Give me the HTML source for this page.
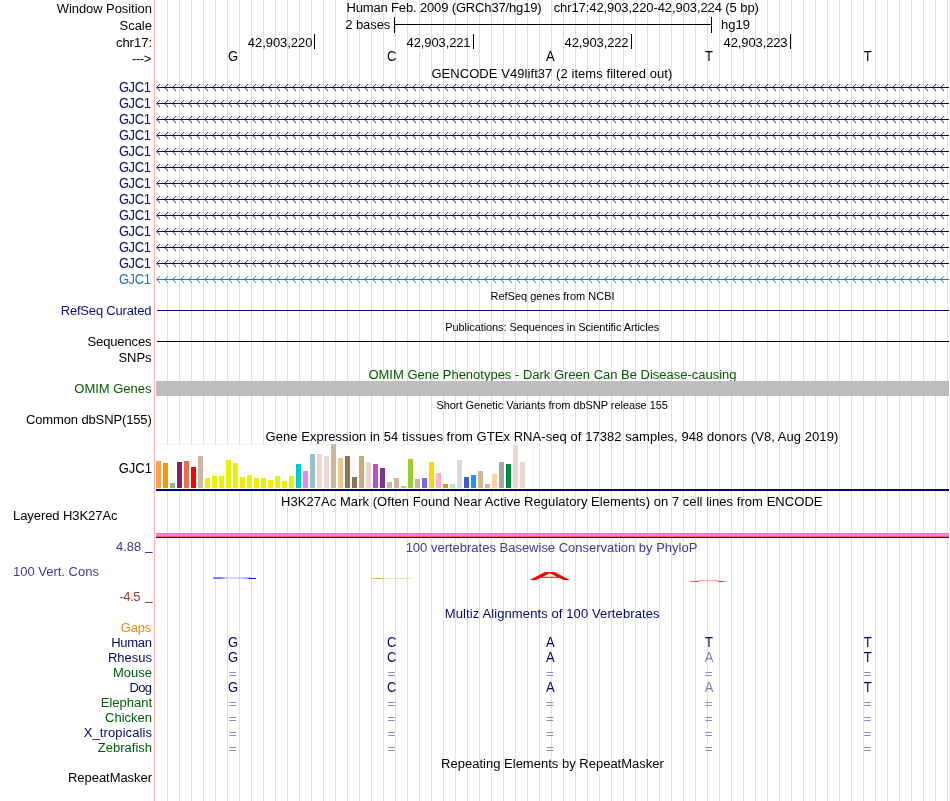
<!DOCTYPE html>
<html><head><meta charset="utf-8"><title>UCSC Genome Browser</title>
<style>
html,body{margin:0;padding:0;background:#fff;}
body{width:950px;height:801px;overflow:hidden;position:relative;font-family:"Liberation Sans",sans-serif;}
svg{position:absolute;left:0;top:0;display:block;will-change:transform;filter:opacity(1);}
svg text{font-family:"Liberation Sans",sans-serif;font-size:13px;fill:#000;}
.e{text-anchor:end}.m{text-anchor:middle}.s{font-size:11px !important}
.c{shape-rendering:crispEdges}
</style></head><body>
<svg width="950" height="801" viewBox="0 0 950 801">
<rect width="950" height="801" fill="#fff"/>
<g class="c" fill="#dcdcff">
<rect x="167" y="0" width="1" height="801"/>
<rect x="179" y="0" width="1" height="801"/>
<rect x="191" y="0" width="1" height="801"/>
<rect x="203" y="0" width="1" height="801"/>
<rect x="215" y="0" width="1" height="801"/>
<rect x="227" y="0" width="1" height="801"/>
<rect x="239" y="0" width="1" height="801"/>
<rect x="251" y="0" width="1" height="801"/>
<rect x="263" y="0" width="1" height="801"/>
<rect x="275" y="0" width="1" height="801"/>
<rect x="287" y="0" width="1" height="801"/>
<rect x="299" y="0" width="1" height="801"/>
<rect x="311" y="0" width="1" height="801"/>
<rect x="323" y="0" width="1" height="801"/>
<rect x="335" y="0" width="1" height="801"/>
<rect x="347" y="0" width="1" height="801"/>
<rect x="359" y="0" width="1" height="801"/>
<rect x="371" y="0" width="1" height="801"/>
<rect x="383" y="0" width="1" height="801"/>
<rect x="395" y="0" width="1" height="801"/>
<rect x="407" y="0" width="1" height="801"/>
<rect x="419" y="0" width="1" height="801"/>
<rect x="431" y="0" width="1" height="801"/>
<rect x="443" y="0" width="1" height="801"/>
<rect x="455" y="0" width="1" height="801"/>
<rect x="467" y="0" width="1" height="801"/>
<rect x="479" y="0" width="1" height="801"/>
<rect x="491" y="0" width="1" height="801"/>
<rect x="503" y="0" width="1" height="801"/>
<rect x="515" y="0" width="1" height="801"/>
<rect x="527" y="0" width="1" height="801"/>
<rect x="539" y="0" width="1" height="801"/>
<rect x="551" y="0" width="1" height="801"/>
<rect x="563" y="0" width="1" height="801"/>
<rect x="575" y="0" width="1" height="801"/>
<rect x="587" y="0" width="1" height="801"/>
<rect x="599" y="0" width="1" height="801"/>
<rect x="611" y="0" width="1" height="801"/>
<rect x="623" y="0" width="1" height="801"/>
<rect x="635" y="0" width="1" height="801"/>
<rect x="647" y="0" width="1" height="801"/>
<rect x="659" y="0" width="1" height="801"/>
<rect x="671" y="0" width="1" height="801"/>
<rect x="683" y="0" width="1" height="801"/>
<rect x="695" y="0" width="1" height="801"/>
<rect x="707" y="0" width="1" height="801"/>
<rect x="719" y="0" width="1" height="801"/>
<rect x="731" y="0" width="1" height="801"/>
<rect x="743" y="0" width="1" height="801"/>
<rect x="755" y="0" width="1" height="801"/>
<rect x="767" y="0" width="1" height="801"/>
<rect x="779" y="0" width="1" height="801"/>
<rect x="791" y="0" width="1" height="801"/>
<rect x="803" y="0" width="1" height="801"/>
<rect x="815" y="0" width="1" height="801"/>
<rect x="827" y="0" width="1" height="801"/>
<rect x="839" y="0" width="1" height="801"/>
<rect x="851" y="0" width="1" height="801"/>
<rect x="863" y="0" width="1" height="801"/>
<rect x="875" y="0" width="1" height="801"/>
<rect x="887" y="0" width="1" height="801"/>
<rect x="899" y="0" width="1" height="801"/>
<rect x="911" y="0" width="1" height="801"/>
<rect x="923" y="0" width="1" height="801"/>
<rect x="935" y="0" width="1" height="801"/>
<rect x="947" y="0" width="1" height="801"/>
</g>
<rect class="c" x="154" y="0" width="1" height="801" fill="#ffb4b4"/>
<defs><path id="ch" d="M160.0 -3.4L156.6 0L160.0 3.4M168.0 -3.4L164.6 0L168.0 3.4M176.0 -3.4L172.6 0L176.0 3.4M184.0 -3.4L180.6 0L184.0 3.4M192.0 -3.4L188.6 0L192.0 3.4M200.0 -3.4L196.6 0L200.0 3.4M208.0 -3.4L204.6 0L208.0 3.4M216.0 -3.4L212.6 0L216.0 3.4M224.0 -3.4L220.6 0L224.0 3.4M232.0 -3.4L228.6 0L232.0 3.4M240.0 -3.4L236.6 0L240.0 3.4M248.0 -3.4L244.6 0L248.0 3.4M256.0 -3.4L252.6 0L256.0 3.4M264.0 -3.4L260.6 0L264.0 3.4M272.0 -3.4L268.6 0L272.0 3.4M280.0 -3.4L276.6 0L280.0 3.4M288.0 -3.4L284.6 0L288.0 3.4M296.0 -3.4L292.6 0L296.0 3.4M304.0 -3.4L300.6 0L304.0 3.4M312.0 -3.4L308.6 0L312.0 3.4M320.0 -3.4L316.6 0L320.0 3.4M328.0 -3.4L324.6 0L328.0 3.4M336.0 -3.4L332.6 0L336.0 3.4M344.0 -3.4L340.6 0L344.0 3.4M352.0 -3.4L348.6 0L352.0 3.4M360.0 -3.4L356.6 0L360.0 3.4M368.0 -3.4L364.6 0L368.0 3.4M376.0 -3.4L372.6 0L376.0 3.4M384.0 -3.4L380.6 0L384.0 3.4M392.0 -3.4L388.6 0L392.0 3.4M400.0 -3.4L396.6 0L400.0 3.4M408.0 -3.4L404.6 0L408.0 3.4M416.0 -3.4L412.6 0L416.0 3.4M424.0 -3.4L420.6 0L424.0 3.4M432.0 -3.4L428.6 0L432.0 3.4M440.0 -3.4L436.6 0L440.0 3.4M448.0 -3.4L444.6 0L448.0 3.4M456.0 -3.4L452.6 0L456.0 3.4M464.0 -3.4L460.6 0L464.0 3.4M472.0 -3.4L468.6 0L472.0 3.4M480.0 -3.4L476.6 0L480.0 3.4M488.0 -3.4L484.6 0L488.0 3.4M496.0 -3.4L492.6 0L496.0 3.4M504.0 -3.4L500.6 0L504.0 3.4M512.0 -3.4L508.6 0L512.0 3.4M520.0 -3.4L516.6 0L520.0 3.4M528.0 -3.4L524.6 0L528.0 3.4M536.0 -3.4L532.6 0L536.0 3.4M544.0 -3.4L540.6 0L544.0 3.4M552.0 -3.4L548.6 0L552.0 3.4M560.0 -3.4L556.6 0L560.0 3.4M568.0 -3.4L564.6 0L568.0 3.4M576.0 -3.4L572.6 0L576.0 3.4M584.0 -3.4L580.6 0L584.0 3.4M592.0 -3.4L588.6 0L592.0 3.4M600.0 -3.4L596.6 0L600.0 3.4M608.0 -3.4L604.6 0L608.0 3.4M616.0 -3.4L612.6 0L616.0 3.4M624.0 -3.4L620.6 0L624.0 3.4M632.0 -3.4L628.6 0L632.0 3.4M640.0 -3.4L636.6 0L640.0 3.4M648.0 -3.4L644.6 0L648.0 3.4M656.0 -3.4L652.6 0L656.0 3.4M664.0 -3.4L660.6 0L664.0 3.4M672.0 -3.4L668.6 0L672.0 3.4M680.0 -3.4L676.6 0L680.0 3.4M688.0 -3.4L684.6 0L688.0 3.4M696.0 -3.4L692.6 0L696.0 3.4M704.0 -3.4L700.6 0L704.0 3.4M712.0 -3.4L708.6 0L712.0 3.4M720.0 -3.4L716.6 0L720.0 3.4M728.0 -3.4L724.6 0L728.0 3.4M736.0 -3.4L732.6 0L736.0 3.4M744.0 -3.4L740.6 0L744.0 3.4M752.0 -3.4L748.6 0L752.0 3.4M760.0 -3.4L756.6 0L760.0 3.4M768.0 -3.4L764.6 0L768.0 3.4M776.0 -3.4L772.6 0L776.0 3.4M784.0 -3.4L780.6 0L784.0 3.4M792.0 -3.4L788.6 0L792.0 3.4M800.0 -3.4L796.6 0L800.0 3.4M808.0 -3.4L804.6 0L808.0 3.4M816.0 -3.4L812.6 0L816.0 3.4M824.0 -3.4L820.6 0L824.0 3.4M832.0 -3.4L828.6 0L832.0 3.4M840.0 -3.4L836.6 0L840.0 3.4M848.0 -3.4L844.6 0L848.0 3.4M856.0 -3.4L852.6 0L856.0 3.4M864.0 -3.4L860.6 0L864.0 3.4M872.0 -3.4L868.6 0L872.0 3.4M880.0 -3.4L876.6 0L880.0 3.4M888.0 -3.4L884.6 0L888.0 3.4M896.0 -3.4L892.6 0L896.0 3.4M904.0 -3.4L900.6 0L904.0 3.4M912.0 -3.4L908.6 0L912.0 3.4M920.0 -3.4L916.6 0L920.0 3.4M928.0 -3.4L924.6 0L928.0 3.4M936.0 -3.4L932.6 0L936.0 3.4M944.0 -3.4L940.6 0L944.0 3.4" fill="none" stroke-width="0.9"/></defs>
<text x="151.9" transform="translate(0,13) scale(1,1.04)" textLength="95.2" lengthAdjust="spacing" class="e">Window Position</text>
<text x="152" transform="translate(0,30) scale(1,1.04)" class="e">Scale</text>
<text x="152" transform="translate(0,47) scale(1,1.04)" class="e">chr17:</text>
<text x="151.3" transform="translate(0,63) scale(1,1.04)" textLength="19.3" lengthAdjust="spacing" class="e">---&gt;</text>
<text x="346.4" transform="translate(0,12) scale(1,1.04)" textLength="195.3" lengthAdjust="spacing">Human Feb. 2009 (GRCh37/hg19)</text>
<text x="553.7" transform="translate(0,12) scale(1,1.04)" textLength="205.2" lengthAdjust="spacing">chr17:42,903,220-42,903,224 (5 bp)</text>
<text x="390.3" transform="translate(0,29) scale(1,1.04)" textLength="45" lengthAdjust="spacing" class="e">2 bases</text>
<g class="c" fill="#000"><rect x="394" y="17" width="1" height="16"/><rect x="711" y="17" width="1" height="16"/><rect x="394" y="24" width="318" height="1"/>
<rect x="314" y="34" width="1" height="15"/>
<rect x="473" y="34" width="1" height="15"/>
<rect x="631" y="34" width="1" height="15"/>
<rect x="790" y="34" width="1" height="15"/>
</g>
<text x="721" transform="translate(0,29) scale(1,1.04)">hg19</text>
<text x="312.4" transform="translate(0,47) scale(1,1.04)" textLength="64.6" lengthAdjust="spacing" class="e">42,903,220</text>
<text x="470.6" transform="translate(0,47) scale(1,1.04)" textLength="64" lengthAdjust="spacing" class="e">42,903,221</text>
<text x="628.6" transform="translate(0,47) scale(1,1.04)" textLength="64" lengthAdjust="spacing" class="e">42,903,222</text>
<text x="787.6" transform="translate(0,47) scale(1,1.04)" textLength="64" lengthAdjust="spacing" class="e">42,903,223</text>
<text class="m" transform="translate(233,61) scale(1,1.1)">G</text>
<text class="m" transform="translate(391.7,61) scale(1,1.1)">C</text>
<text class="m" transform="translate(550.3,61) scale(1,1.1)">A</text>
<text class="m" transform="translate(709,61) scale(1,1.1)">T</text>
<text class="m" transform="translate(867.7,61) scale(1,1.1)">T</text>
<text x="551.85" transform="translate(0,78) scale(1,1.04)" textLength="240.9" lengthAdjust="spacing" class="m">GENCODE V49lift37 (2 items filtered out)</text>
<rect class="c" x="157" y="87" width="792" height="1" fill="#0c0c78"/>
<use href="#ch" y="87.5" stroke="#0c0c78"/>
<text x="150.9" transform="translate(0,92) scale(1,1.12)" textLength="32" lengthAdjust="spacing" class="e" style="fill:#0c0c78">GJC1</text>
<rect class="c" x="157" y="103" width="792" height="1" fill="#0c0c78"/>
<use href="#ch" y="103.5" stroke="#0c0c78"/>
<text x="150.9" transform="translate(0,108) scale(1,1.12)" textLength="32" lengthAdjust="spacing" class="e" style="fill:#0c0c78">GJC1</text>
<rect class="c" x="157" y="119" width="792" height="1" fill="#0c0c78"/>
<use href="#ch" y="119.5" stroke="#0c0c78"/>
<text x="150.9" transform="translate(0,124) scale(1,1.12)" textLength="32" lengthAdjust="spacing" class="e" style="fill:#0c0c78">GJC1</text>
<rect class="c" x="157" y="135" width="792" height="1" fill="#0c0c78"/>
<use href="#ch" y="135.5" stroke="#0c0c78"/>
<text x="150.9" transform="translate(0,140) scale(1,1.12)" textLength="32" lengthAdjust="spacing" class="e" style="fill:#0c0c78">GJC1</text>
<rect class="c" x="157" y="151" width="792" height="1" fill="#0c0c78"/>
<use href="#ch" y="151.5" stroke="#0c0c78"/>
<text x="150.9" transform="translate(0,156) scale(1,1.12)" textLength="32" lengthAdjust="spacing" class="e" style="fill:#0c0c78">GJC1</text>
<rect class="c" x="157" y="167" width="792" height="1" fill="#0c0c78"/>
<use href="#ch" y="167.5" stroke="#0c0c78"/>
<text x="150.9" transform="translate(0,172) scale(1,1.12)" textLength="32" lengthAdjust="spacing" class="e" style="fill:#0c0c78">GJC1</text>
<rect class="c" x="157" y="183" width="792" height="1" fill="#0c0c78"/>
<use href="#ch" y="183.5" stroke="#0c0c78"/>
<text x="150.9" transform="translate(0,188) scale(1,1.12)" textLength="32" lengthAdjust="spacing" class="e" style="fill:#0c0c78">GJC1</text>
<rect class="c" x="157" y="199" width="792" height="1" fill="#0c0c78"/>
<use href="#ch" y="199.5" stroke="#0c0c78"/>
<text x="150.9" transform="translate(0,204) scale(1,1.12)" textLength="32" lengthAdjust="spacing" class="e" style="fill:#0c0c78">GJC1</text>
<rect class="c" x="157" y="215" width="792" height="1" fill="#0c0c78"/>
<use href="#ch" y="215.5" stroke="#0c0c78"/>
<text x="150.9" transform="translate(0,220) scale(1,1.12)" textLength="32" lengthAdjust="spacing" class="e" style="fill:#0c0c78">GJC1</text>
<rect class="c" x="157" y="231" width="792" height="1" fill="#0c0c78"/>
<use href="#ch" y="231.5" stroke="#0c0c78"/>
<text x="150.9" transform="translate(0,236) scale(1,1.12)" textLength="32" lengthAdjust="spacing" class="e" style="fill:#0c0c78">GJC1</text>
<rect class="c" x="157" y="247" width="792" height="1" fill="#0c0c78"/>
<use href="#ch" y="247.5" stroke="#0c0c78"/>
<text x="150.9" transform="translate(0,252) scale(1,1.12)" textLength="32" lengthAdjust="spacing" class="e" style="fill:#0c0c78">GJC1</text>
<rect class="c" x="157" y="263" width="792" height="1" fill="#0c0c78"/>
<use href="#ch" y="263.5" stroke="#0c0c78"/>
<text x="150.9" transform="translate(0,268) scale(1,1.12)" textLength="32" lengthAdjust="spacing" class="e" style="fill:#0c0c78">GJC1</text>
<rect class="c" x="157" y="279" width="792" height="1" fill="#1f78b4"/>
<use href="#ch" y="279.5" stroke="#1f78b4"/>
<text x="150.9" transform="translate(0,284) scale(1,1.12)" textLength="32" lengthAdjust="spacing" class="e" style="fill:#1f78b4">GJC1</text>
<text x="552.5" transform="translate(0,300) scale(1,1.04)" class="m s">RefSeq genes from NCBI</text>
<rect class="c" x="157" y="310" width="792" height="1" fill="#0c0c78"/>
<text x="151.5" transform="translate(0,315) scale(1,1.04)" textLength="90.8" lengthAdjust="spacing" class="e" style="fill:#0c0c78">RefSeq Curated</text>
<text x="552.2" transform="translate(0,331) scale(1,1.04)" textLength="214" lengthAdjust="spacing" class="m s">Publications: Sequences in Scientific Articles</text>
<rect class="c" x="157" y="341" width="792" height="1" fill="#000"/>
<text x="151.5" transform="translate(0,345.5) scale(1,1.04)" textLength="64" lengthAdjust="spacing" class="e">Sequences</text>
<text x="151.5" transform="translate(0,361.5) scale(1,1.04)" textLength="33" lengthAdjust="spacing" class="e">SNPs</text>
<text x="552.5" transform="translate(0,379) scale(1,1.04)" class="m" style="fill:#005a00">OMIM Gene Phenotypes - Dark Green Can Be Disease-causing</text>
<rect class="c" x="156" y="381" width="793" height="15" fill="#bebebe"/>
<text x="151.5" transform="translate(0,393) scale(1,1.04)" textLength="77.2" lengthAdjust="spacing" class="e" style="fill:#005a00">OMIM Genes</text>
<text x="552.2" transform="translate(0,409) scale(1,1.04)" textLength="231.6" lengthAdjust="spacing" class="m s">Short Genetic Variants from dbSNP release 155</text>
<text x="151.8" transform="translate(0,424) scale(1,1.04)" textLength="125.8" lengthAdjust="spacing" class="e">Common dbSNP(155)</text>
<text x="551.95" transform="translate(0,441) scale(1,1.04)" textLength="572.7" lengthAdjust="spacing" class="m">Gene Expression in 54 tissues from GTEx RNA-seq of 17382 samples, 948 donors (V8, Aug 2019)</text>
<rect class="c" x="156" y="444" width="378" height="45" fill="#fff" stroke="none"/>
<g class="c" fill="#f3f3f3"><rect x="156" y="444" width="378" height="1"/><rect x="533" y="444" width="1" height="45"/></g>
<g class="c">
<rect x="156" y="461" width="5" height="27" fill="#FFA54F"/>
<rect x="163" y="463" width="5" height="25" fill="#EE9A00"/>
<rect x="170" y="483" width="5" height="5" fill="#8FBC8F"/>
<rect x="177" y="462" width="5" height="26" fill="#8B1C62"/>
<rect x="184" y="461" width="5" height="27" fill="#EE6A50"/>
<rect x="191" y="467" width="5" height="21" fill="#FF0000"/>
<rect x="198" y="456" width="5" height="32" fill="#CDB79E"/>
<rect x="205" y="478" width="5" height="10" fill="#EEEE00"/>
<rect x="212" y="476" width="5" height="12" fill="#EEEE00"/>
<rect x="219" y="476" width="5" height="12" fill="#EEEE00"/>
<rect x="226" y="460" width="5" height="28" fill="#EEEE00"/>
<rect x="233" y="463" width="5" height="25" fill="#EEEE00"/>
<rect x="240" y="477" width="5" height="11" fill="#EEEE00"/>
<rect x="247" y="475" width="5" height="13" fill="#EEEE00"/>
<rect x="254" y="478" width="5" height="10" fill="#EEEE00"/>
<rect x="261" y="478" width="5" height="10" fill="#EEEE00"/>
<rect x="268" y="480" width="5" height="8" fill="#EEEE00"/>
<rect x="275" y="476" width="5" height="12" fill="#EEEE00"/>
<rect x="282" y="481" width="5" height="7" fill="#EEEE00"/>
<rect x="289" y="476" width="5" height="12" fill="#EEEE00"/>
<rect x="296" y="464" width="5" height="24" fill="#00CDCD"/>
<rect x="303" y="471" width="5" height="17" fill="#EE82EE"/>
<rect x="310" y="454" width="5" height="34" fill="#9AC0CD"/>
<rect x="317" y="454" width="5" height="34" fill="#EED5D2"/>
<rect x="324" y="456" width="5" height="32" fill="#EED5D2"/>
<rect x="331" y="444" width="5" height="44" fill="#CDB79E"/>
<rect x="338" y="458" width="5" height="30" fill="#EEC591"/>
<rect x="345" y="456" width="5" height="32" fill="#8B7355"/>
<rect x="352" y="477" width="5" height="11" fill="#8B7355"/>
<rect x="359" y="456" width="5" height="32" fill="#CDAA7D"/>
<rect x="366" y="462" width="5" height="26" fill="#EED5D2"/>
<rect x="373" y="464" width="5" height="24" fill="#B452CD"/>
<rect x="380" y="468" width="5" height="20" fill="#7A378B"/>
<rect x="387" y="482" width="5" height="6" fill="#CDB79E"/>
<rect x="394" y="478" width="5" height="10" fill="#CDB79E"/>
<rect x="401" y="486" width="5" height="2" fill="#CDB79E"/>
<rect x="408" y="459" width="5" height="29" fill="#9ACD32"/>
<rect x="415" y="479" width="5" height="9" fill="#CDB79E"/>
<rect x="422" y="478" width="5" height="10" fill="#7A67EE"/>
<rect x="429" y="462" width="5" height="26" fill="#FFD700"/>
<rect x="436" y="473" width="5" height="15" fill="#FFB6C1"/>
<rect x="443" y="484" width="5" height="4" fill="#CD9B1D"/>
<rect x="450" y="484" width="5" height="4" fill="#B4EEB4"/>
<rect x="457" y="460" width="5" height="28" fill="#D9D9D9"/>
<rect x="464" y="477" width="5" height="11" fill="#3A5FCD"/>
<rect x="471" y="475" width="5" height="13" fill="#1E90FF"/>
<rect x="478" y="471" width="5" height="17" fill="#CDB79E"/>
<rect x="485" y="484" width="5" height="4" fill="#CDB79E"/>
<rect x="492" y="474" width="5" height="14" fill="#FFD39B"/>
<rect x="499" y="462" width="5" height="26" fill="#A6A6A6"/>
<rect x="506" y="464" width="5" height="24" fill="#008B45"/>
<rect x="513" y="445" width="5" height="43" fill="#EED5D2"/>
<rect x="520" y="462" width="5" height="26" fill="#EED5D2"/>
</g>
<rect class="c" x="156" y="489" width="793" height="2" fill="#000080"/>
<text x="152" transform="translate(0,473) scale(1,1.12)" class="e">GJC1</text>
<text x="551.8" transform="translate(0,506) scale(1,1.04)" textLength="541.4" lengthAdjust="spacing" class="m">H3K27Ac Mark (Often Found Near Active Regulatory Elements) on 7 cell lines from ENCODE</text>
<text x="13" transform="translate(0,520) scale(1,1.04)" textLength="104.5" lengthAdjust="spacing">Layered H3K27Ac</text>
<g class="c"><rect x="156" y="533" width="793" height="1" fill="#ff6ccf"/><rect x="156" y="534" width="793" height="2" fill="#ff80e0"/><rect x="156" y="536" width="793" height="1" fill="#ff645a"/><rect x="156" y="537" width="793" height="1" fill="#23194b"/></g>
<text x="551.5" transform="translate(0,552) scale(1,1.04)" class="m" style="fill:#3c3c8c">100 vertebrates Basewise Conservation by PhyloP</text>
<text x="141.3" transform="translate(0,551) scale(1,1.04)" class="e" style="fill:#3c3c8c">4.88</text>
<rect x="145" y="552" width="7.6" height="1" fill="#3c3c8c"/>
<text x="13" transform="translate(0,576) scale(1,1.04)" style="fill:#3c3c8c">100 Vert. Cons</text>
<text x="140.6" transform="translate(0,601) scale(1,1.04)" textLength="21.2" lengthAdjust="spacing" class="e" style="fill:#8c3c3c">-4.5</text>
<rect x="145" y="602" width="7.6" height="1" fill="#8c3c3c"/>
<defs><linearGradient id="g1" x1="0" x2="1"><stop offset="0" stop-color="#4040ff"/><stop offset="0.22" stop-color="#3838ff"/><stop offset="0.38" stop-color="#c0c0ff"/><stop offset="0.8" stop-color="#b4b4ff"/><stop offset="1" stop-color="#5050ff"/></linearGradient>
<linearGradient id="g2" x1="0" x2="1"><stop offset="0" stop-color="#c8be3c"/><stop offset="0.2" stop-color="#c8be3c"/><stop offset="0.35" stop-color="#ececb0"/><stop offset="0.8" stop-color="#e0dc90"/><stop offset="1" stop-color="#f4f4d8"/></linearGradient></defs>
<rect x="213" y="577.4" width="37" height="1.3" fill="url(#g1)"/><rect x="249" y="578" width="7" height="1" fill="#0000ff"/>
<rect x="372.5" y="578" width="40" height="1" fill="url(#g2)"/>
<path d="M529.5 580L545 572L554.5 572L570 580L563.5 580L558.5 577.7L541 577.7L536 580ZM542.6 576.8L556.8 576.8L549.7 573.2Z" fill="#ff0000" fill-rule="evenodd"/>
<defs><linearGradient id="g3" gradientUnits="userSpaceOnUse" x1="688" x2="728" y1="0" y2="0"><stop offset="0" stop-color="#ff2020" stop-opacity="0.1"/><stop offset="0.14" stop-color="#ff2020" stop-opacity="0.9"/><stop offset="0.22" stop-color="#ff2020" stop-opacity="0.9"/><stop offset="0.3" stop-color="#ff2020" stop-opacity="0.4"/><stop offset="0.5" stop-color="#ff2020" stop-opacity="0.25"/><stop offset="0.7" stop-color="#ff2020" stop-opacity="0.4"/><stop offset="0.78" stop-color="#ff2020" stop-opacity="0.9"/><stop offset="0.86" stop-color="#ff2020" stop-opacity="0.9"/><stop offset="1" stop-color="#ff2020" stop-opacity="0.1"/></linearGradient></defs>
<path d="M688 581.5L697 581.5L699 580.6L717 580.6L719 581.5L728 581.5" fill="none" stroke="url(#g3)" stroke-width="1.1"/>
<text x="552.2" transform="translate(0,618) scale(1,1.04)" textLength="214.7" lengthAdjust="spacing" class="m" style="fill:#000a64">Multiz Alignments of 100 Vertebrates</text>
<text x="151.3" transform="translate(0,632) scale(1,1.04)" textLength="30.6" lengthAdjust="spacing" class="e" style="fill:#e68c14">Gaps</text>
<text x="152" transform="translate(0,647) scale(1,1.04)" textLength="40.8" lengthAdjust="spacing" class="e" style="fill:#000a64">Human</text>
<text class="m" transform="translate(233,647) scale(1,1.1)" style="fill:#000a64">G</text>
<text class="m" transform="translate(391.7,647) scale(1,1.1)" style="fill:#000a64">C</text>
<text class="m" transform="translate(550.3,647) scale(1,1.1)" style="fill:#000a64">A</text>
<text class="m" transform="translate(709,647) scale(1,1.1)" style="fill:#000a64">T</text>
<text class="m" transform="translate(867.7,647) scale(1,1.1)" style="fill:#000a64">T</text>
<text x="152" transform="translate(0,662) scale(1,1.04)" class="e" style="fill:#000a64">Rhesus</text>
<text class="m" transform="translate(233,662) scale(1,1.1)" style="fill:#000a64">G</text>
<text class="m" transform="translate(391.7,662) scale(1,1.1)" style="fill:#000a64">C</text>
<text class="m" transform="translate(550.3,662) scale(1,1.1)" style="fill:#000a64">A</text>
<text class="m" transform="translate(709,662) scale(1,1.1)" style="fill:#8080b8">A</text>
<text class="m" transform="translate(867.7,662) scale(1,1.1)" style="fill:#000a64">T</text>
<text x="152" transform="translate(0,677) scale(1,1.04)" class="e" style="fill:#005a0a">Mouse</text>
<rect x="229.4" y="672" width="6.6" height="1" fill="#8a8abc"/><rect x="229.4" y="675" width="6.6" height="1" fill="#8a8abc"/>
<rect x="388.1" y="672" width="6.6" height="1" fill="#8a8abc"/><rect x="388.1" y="675" width="6.6" height="1" fill="#8a8abc"/>
<rect x="546.7" y="672" width="6.6" height="1" fill="#8a8abc"/><rect x="546.7" y="675" width="6.6" height="1" fill="#8a8abc"/>
<rect x="705.4" y="672" width="6.6" height="1" fill="#8a8abc"/><rect x="705.4" y="675" width="6.6" height="1" fill="#8a8abc"/>
<rect x="864.1" y="672" width="6.6" height="1" fill="#8a8abc"/><rect x="864.1" y="675" width="6.6" height="1" fill="#8a8abc"/>
<text x="152" transform="translate(0,692) scale(1,1.04)" textLength="22.5" lengthAdjust="spacing" class="e" style="fill:#000a64">Dog</text>
<text class="m" transform="translate(233,692) scale(1,1.1)" style="fill:#000a64">G</text>
<text class="m" transform="translate(391.7,692) scale(1,1.1)" style="fill:#000a64">C</text>
<text class="m" transform="translate(550.3,692) scale(1,1.1)" style="fill:#000a64">A</text>
<text class="m" transform="translate(709,692) scale(1,1.1)" style="fill:#8080b8">A</text>
<text class="m" transform="translate(867.7,692) scale(1,1.1)" style="fill:#000a64">T</text>
<text x="152" transform="translate(0,707) scale(1,1.04)" class="e" style="fill:#005a0a">Elephant</text>
<rect x="229.4" y="702" width="6.6" height="1" fill="#8a8abc"/><rect x="229.4" y="705" width="6.6" height="1" fill="#8a8abc"/>
<rect x="388.1" y="702" width="6.6" height="1" fill="#8a8abc"/><rect x="388.1" y="705" width="6.6" height="1" fill="#8a8abc"/>
<rect x="546.7" y="702" width="6.6" height="1" fill="#8a8abc"/><rect x="546.7" y="705" width="6.6" height="1" fill="#8a8abc"/>
<rect x="705.4" y="702" width="6.6" height="1" fill="#8a8abc"/><rect x="705.4" y="705" width="6.6" height="1" fill="#8a8abc"/>
<rect x="864.1" y="702" width="6.6" height="1" fill="#8a8abc"/><rect x="864.1" y="705" width="6.6" height="1" fill="#8a8abc"/>
<text x="152" transform="translate(0,722) scale(1,1.04)" class="e" style="fill:#005a0a">Chicken</text>
<rect x="229.4" y="717" width="6.6" height="1" fill="#8a8abc"/><rect x="229.4" y="720" width="6.6" height="1" fill="#8a8abc"/>
<rect x="388.1" y="717" width="6.6" height="1" fill="#8a8abc"/><rect x="388.1" y="720" width="6.6" height="1" fill="#8a8abc"/>
<rect x="546.7" y="717" width="6.6" height="1" fill="#8a8abc"/><rect x="546.7" y="720" width="6.6" height="1" fill="#8a8abc"/>
<rect x="705.4" y="717" width="6.6" height="1" fill="#8a8abc"/><rect x="705.4" y="720" width="6.6" height="1" fill="#8a8abc"/>
<rect x="864.1" y="717" width="6.6" height="1" fill="#8a8abc"/><rect x="864.1" y="720" width="6.6" height="1" fill="#8a8abc"/>
<text x="152" transform="translate(0,737) scale(1,1.04)" textLength="68.2" lengthAdjust="spacing" class="e" style="fill:#000a64">X_tropicalis</text>
<rect x="229.4" y="732" width="6.6" height="1" fill="#8a8abc"/><rect x="229.4" y="735" width="6.6" height="1" fill="#8a8abc"/>
<rect x="388.1" y="732" width="6.6" height="1" fill="#8a8abc"/><rect x="388.1" y="735" width="6.6" height="1" fill="#8a8abc"/>
<rect x="546.7" y="732" width="6.6" height="1" fill="#8a8abc"/><rect x="546.7" y="735" width="6.6" height="1" fill="#8a8abc"/>
<rect x="705.4" y="732" width="6.6" height="1" fill="#8a8abc"/><rect x="705.4" y="735" width="6.6" height="1" fill="#8a8abc"/>
<rect x="864.1" y="732" width="6.6" height="1" fill="#8a8abc"/><rect x="864.1" y="735" width="6.6" height="1" fill="#8a8abc"/>
<text x="152" transform="translate(0,752) scale(1,1.04)" class="e" style="fill:#005a0a">Zebrafish</text>
<rect x="229.4" y="747" width="6.6" height="1" fill="#8a8abc"/><rect x="229.4" y="750" width="6.6" height="1" fill="#8a8abc"/>
<rect x="388.1" y="747" width="6.6" height="1" fill="#8a8abc"/><rect x="388.1" y="750" width="6.6" height="1" fill="#8a8abc"/>
<rect x="546.7" y="747" width="6.6" height="1" fill="#8a8abc"/><rect x="546.7" y="750" width="6.6" height="1" fill="#8a8abc"/>
<rect x="705.4" y="747" width="6.6" height="1" fill="#8a8abc"/><rect x="705.4" y="750" width="6.6" height="1" fill="#8a8abc"/>
<rect x="864.1" y="747" width="6.6" height="1" fill="#8a8abc"/><rect x="864.1" y="750" width="6.6" height="1" fill="#8a8abc"/>
<text x="552.5" transform="translate(0,768) scale(1,1.04)" textLength="222.8" lengthAdjust="spacing" class="m">Repeating Elements by RepeatMasker</text>
<text x="152" transform="translate(0,782) scale(1,1.04)" textLength="84" lengthAdjust="spacing" class="e">RepeatMasker</text>
</svg></body></html>
